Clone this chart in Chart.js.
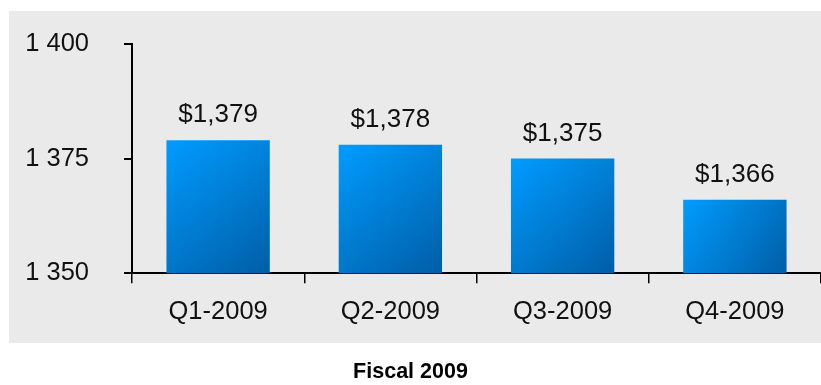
<!DOCTYPE html>
<html>
<head>
<meta charset="utf-8">
<script src="https://cdn.jsdelivr.net/npm/chart.js@4"></script>
<style>
  html, body { margin: 0; padding: 0; background: #fff; }
  canvas { display: block; }
</style>
</head>
<body>
<canvas id="chart" width="821" height="385"></canvas>
<script>
// quarterly values (fiscal 2009)
const quarters = ['Q1-2009', 'Q2-2009', 'Q3-2009', 'Q4-2009'];
const values = [1379, 1378, 1375, 1366];
const yTicks = [1350, 1375, 1400];
const caption = 'Fiscal 2009';

const FONT = "'Liberation Sans', Arial, sans-serif";

function spaced(v) {
    return String(v).replace(/\B(?=(\d{3})+(?!\d))/g, ' ');
}
function dollars(v) {
    return '$' + String(v).replace(/\B(?=(\d{3})+(?!\d))/g, ',');
}

// grey panel behind the plot
const panel = {
    id: 'panel',
    beforeDraw(chart) {
        const c = chart.ctx;
        c.save();
        c.fillStyle = '#eaeaea';
        c.fillRect(9, 11, chart.width - 9, 332);
        c.restore();
    }
};

// "$1,379" labels above each bar
const barLabels = {
    id: 'barLabels',
    afterDatasetsDraw(chart) {
        const c = chart.ctx;
        const meta = chart.getDatasetMeta(0);
        c.save();
        c.font = '26px ' + FONT;
        c.fillStyle = '#111';
        c.textAlign = 'center';
        c.textBaseline = 'alphabetic';
        meta.data.forEach((bar, i) => {
            c.fillText(dollars(values[i]), bar.x, bar.y - 18);
        });
        c.restore();
    }
};

function barGradient(context) {
    const chart = context.chart;
    if (!chart.chartArea) return '#0088e6';
    const xs = chart.scales.x, ys = chart.scales.y;
    const cx = xs.getPixelForValue(context.dataIndex);
    const half = xs.width / quarters.length * 0.6 / 2;
    const top = ys.getPixelForValue(values[context.dataIndex]);
    const g = chart.ctx.createLinearGradient(cx - half, top, cx + half, ys.bottom);
    g.addColorStop(0, '#009cff');
    g.addColorStop(1, '#005ea6');
    return g;
}

new Chart(document.getElementById('chart'), {
    type: 'bar',
    data: {
        labels: quarters,
        datasets: [{
            data: values,
            backgroundColor: barGradient,
            borderWidth: 0,
            barPercentage: 0.6,
            categoryPercentage: 1
        }]
    },
    options: {
        responsive: false,
        animation: false,
        devicePixelRatio: 1,
        layout: { padding: { left: 0, right: 0, top: 44, bottom: 0 } },
        plugins: {
            legend: { display: false },
            tooltip: { enabled: false },
            title: {
                display: true,
                position: 'bottom',
                text: caption,
                color: '#000',
                font: { family: FONT, size: 21.5, weight: 'bold' },
                padding: { top: 0, bottom: 0 }
            }
        },
        scales: {
            x: {
                afterFit(scale) { scale.height = 86; },
                border: { display: true, color: '#000', width: 2 },
                grid: {
                    offset: true,
                    drawOnChartArea: false,
                    drawTicks: true,
                    tickLength: 10,
                    color: '#000',
                    lineWidth: 1.5
                },
                ticks: {
                    color: '#111',
                    padding: 13,
                    font: { family: FONT, size: 25.5 }
                }
            },
            y: {
                min: 1350,
                max: 1400,
                afterFit(scale) {
                    scale.width = 132;
                    // tick padding is only horizontal space here
                    scale.paddingTop = 16;
                    scale.paddingBottom = 16;
                },
                afterBuildTicks(scale) {
                    scale.ticks = yTicks.map(v => ({ value: v }));
                },
                border: { display: true, color: '#000', width: 2 },
                grid: {
                    drawOnChartArea: false,
                    drawTicks: true,
                    tickLength: 8,
                    color: '#000',
                    lineWidth: 2
                },
                ticks: {
                    color: '#111',
                    padding: 35,
                    font: { family: FONT, size: 25.5 },
                    callback: v => spaced(v)
                }
            }
        }
    },
    plugins: [panel, barLabels]
});
</script>
</body>
</html>
